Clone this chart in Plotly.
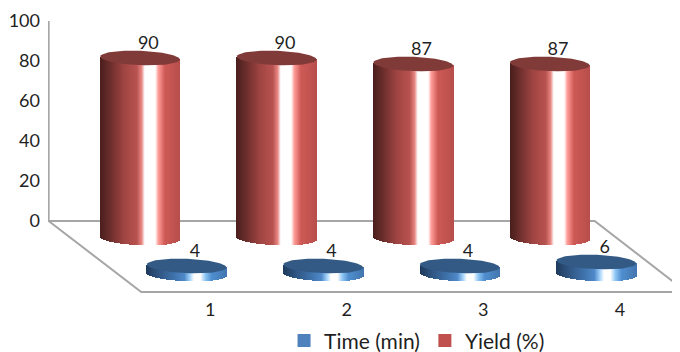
import numpy as np
import plotly.graph_objects as go

categories = [1, 2, 3, 4]
time_min = [4, 4, 4, 6]
yield_pct = [90, 90, 87, 87]

# Projection of the chart's depth onto the flat axes (axis units)
RED_DX, RED_BASE = -0.513, -8.5
BLUE_DX, BLUE_BASE = -0.172, -26.5
HALF_W = 0.2915       # cylinder half width in category units
ELL_B = 3.6           # ellipse half height in value units
TILT = 0.75
N = 80

RED_STOPS = [(0, "#4a1f1d"), (0.12, "#692d2b"), (0.3, "#a04543"), (0.46, "#b85350"), (0.52, "#e88682"),
             (0.56, "#ffffff"), (0.69, "#ffffff"), (0.73, "#ff9c97"), (0.81, "#cf5a56"), (1, "#b84f4c")]
BLUE_STOPS = [(0, "#1f3a5c"), (0.15, "#2f5480"), (0.35, "#3f72ab"), (0.48, "#4f8ac9"), (0.55, "#a5d4fb"),
              (0.6, "#ffffff"), (0.68, "#ffffff"), (0.74, "#90c8f5"), (0.82, "#4f8fd0"), (1, "#4477b0")]


def hex2rgb(h):
    return np.array([int(h[i:i + 2], 16) for i in (1, 3, 5)], float)


def ramp(stops, t):
    xs = [s[0] for s in stops]
    cs = np.array([hex2rgb(s[1]) for s in stops])
    return ["rgb(%d,%d,%d)" % tuple(np.interp(v, xs, cs[:, k]) for k in range(3)) for v in t]


fig = go.Figure()


def cylinders(values, dx, base, stops, top_color, name):
    edges = np.linspace(-1, 1, N + 1)
    t = (edges[:-1] + edges[1:]) / 2
    colors = ramp(stops, (t + 1) / 2)
    for c, v in zip(categories, values):
        low = base - TILT * t - ELL_B * np.sqrt(1 - t ** 2)
        high = base + v - TILT * t
        fig.add_trace(go.Bar(
            x=c + dx + t * HALF_W, y=high - low, base=low, width=2 * HALF_W / N * 1.02,
            marker=dict(color=colors, line_width=0), showlegend=False, hoverinfo="skip", name=name))
    th = np.linspace(0, 2 * np.pi, 90)
    for c, v in zip(categories, values):
        fig.add_trace(go.Scatter(
            x=c + dx + HALF_W * np.cos(th),
            y=base + v - TILT * np.cos(th) + ELL_B * np.sin(th),
            mode="lines", line=dict(width=0), fill="toself", fillcolor=top_color,
            showlegend=False, hoverinfo="skip"))


# wall and floor outline, drawn beneath the cylinders
GRID = "#a6a6a6"
fig.add_shape(type="path", xref="x", yref="y", layer="below",
              path="M -0.183 100 L -0.183 0 L 3.815 0 L 4.489 -35.5 L 0.495 -35.5 L -0.183 0",
              line=dict(color=GRID, width=2))

cylinders(yield_pct, RED_DX, RED_BASE, RED_STOPS, "#803a38", "Yield (%)")
cylinders(time_min, BLUE_DX, BLUE_BASE, BLUE_STOPS, "#335a85", "Time (min)")

# data labels
FONT = "Lato"
TXT = "#1f1f1f"
for vals, dx, base in ((yield_pct, RED_DX, RED_BASE), (time_min, BLUE_DX, BLUE_BASE)):
    fig.add_trace(go.Scatter(x=[c + dx + 0.06 for c in categories], y=[base + v + 6.6 for v in vals],
                             text=[str(v) for v in vals], mode="text", showlegend=False,
                             textfont=dict(family=FONT, size=18, color=TXT), hoverinfo="skip"))

# legend entries
fig.add_trace(go.Scatter(x=[None], y=[None], name="Time (min)", mode="markers",
                         marker=dict(symbol="square", size=13, color="#4f81bd")))
fig.add_trace(go.Scatter(x=[None], y=[None], name="Yield (%)", mode="markers",
                         marker=dict(symbol="square", size=13, color="#c0504d")))

# The page adds an 8px body margin, so the figure is 672x344 and its plot area spans page y 8..297
fig.update_layout(
    width=672, height=344, margin=dict(l=40, r=0, t=0, b=55, pad=0, autoexpand=False),
    paper_bgcolor="white", plot_bgcolor="white", barmode="overlay", bargap=0,
    font=dict(family=FONT, size=18, color=TXT),
    legend=dict(orientation="h", x=0.3735, y=-0.152, xanchor="left", yanchor="middle",
                font=dict(family=FONT, size=21), itemwidth=30, traceorder="normal",
                bgcolor="rgba(0,0,0,0)"),
    xaxis=dict(range=[-0.1877, 4.44], tickvals=categories, showgrid=False, zeroline=False,
               showline=False, ticks="", tickfont=dict(family=FONT, size=18)),
    yaxis=dict(range=[-38, 106.5], tickvals=[0, 20, 40, 60, 80, 100], showgrid=False, zeroline=False,
               showline=False, ticks="", ticklabelstandoff=7, tickfont=dict(family=FONT, size=18)),
)
fig.write_html("out.html")
